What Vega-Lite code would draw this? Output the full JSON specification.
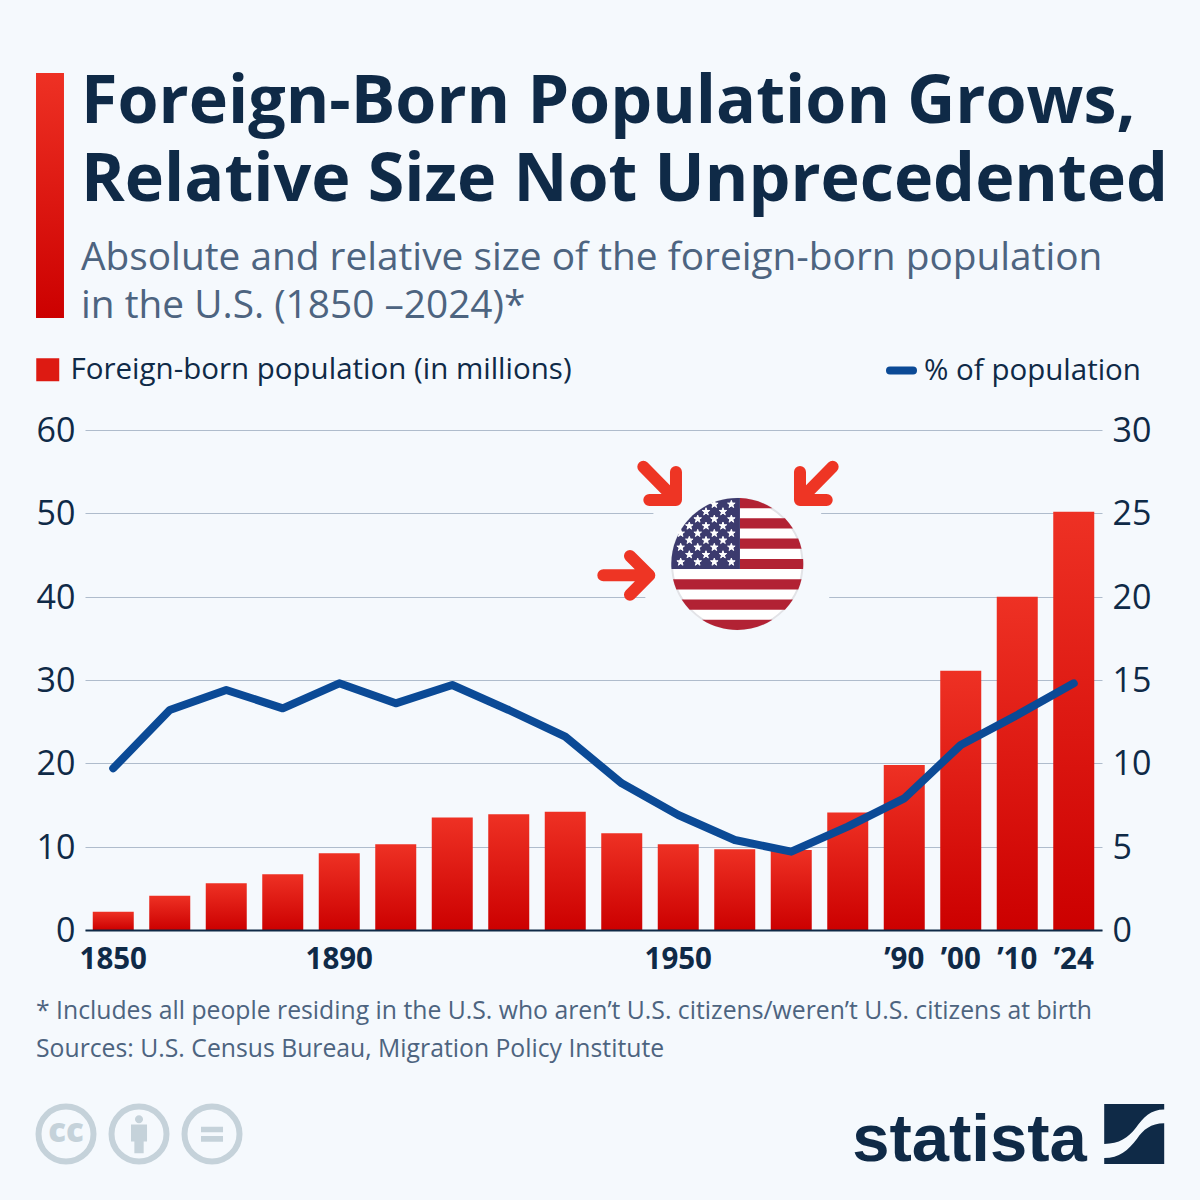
{
  "$schema": "https://vega.github.io/schema/vega-lite/v6.json",
  "autosize": {"type": "none"},
  "padding": {"left": 85, "right": 98, "top": 430, "bottom": 270},
  "width": 1017,
  "height": 500,
  "background": "#f5f9fd",
  "title": {
    "text": ["Foreign-Born Population Grows,", "Relative Size Not Unprecedented"],
    "subtitle": ["Absolute and relative size of the foreign-born population", "in the U.S. (1850 –2024)*"],
    "anchor": "start",
    "frame": "group",
    "dx": -4,
    "offset": -254,
    "font": "Open Sans",
    "fontWeight": 700,
    "fontSize": 66.4,
    "lineHeight": 78,
    "color": "#0f2a47",
    "subtitleFont": "Open Sans",
    "subtitleFontSize": 38.8,
    "subtitleLineHeight": 48,
    "subtitleColor": "#4d6480",
    "subtitlePadding": 24
  },
  "config": {
    "view": {"stroke": null},
    "font": "Open Sans"
  },
  "data": {
    "values": [
      {"year": 1850, "population": 2.2, "share": 9.7},
      {"year": 1860, "population": 4.1, "share": 13.2},
      {"year": 1870, "population": 5.6, "share": 14.4},
      {"year": 1880, "population": 6.7, "share": 13.3},
      {"year": 1890, "population": 9.2, "share": 14.8},
      {"year": 1900, "population": 10.3, "share": 13.6},
      {"year": 1910, "population": 13.5, "share": 14.7},
      {"year": 1920, "population": 13.9, "share": 13.2},
      {"year": 1930, "population": 14.2, "share": 11.6},
      {"year": 1940, "population": 11.6, "share": 8.8},
      {"year": 1950, "population": 10.3, "share": 6.9},
      {"year": 1960, "population": 9.7, "share": 5.4},
      {"year": 1970, "population": 9.6, "share": 4.7},
      {"year": 1980, "population": 14.1, "share": 6.2},
      {"year": 1990, "population": 19.8, "share": 7.9},
      {"year": 2000, "population": 31.1, "share": 11.1},
      {"year": 2010, "population": 40.0, "share": 12.9},
      {"year": 2024, "population": 50.2, "share": 14.8}
    ]
  },
  "resolve": {"scale": {"x": "independent", "y": "independent", "color": "independent", "stroke": "independent"}},
  "layer": [
    {
      "mark": {"type": "bar", "width": 41, "fill": {"gradient": "linear", "x1": 0, "y1": 0, "x2": 0, "y2": 1, "stops": [{"offset": 0, "color": "#ee3124"}, {"offset": 1, "color": "#cc0000"}]}},
      "encoding": {
        "x": {
          "field": "year",
          "type": "ordinal",
          "scale": {"paddingInner": 0.27, "paddingOuter": 0.135},
          "axis": {
            "title": null,
            "zindex": 1,
            "ticks": false,
            "domainColor": "#0f2a47",
            "domainWidth": 2,
            "labelAngle": 0,
            "labelFont": "Open Sans",
            "labelFontSize": 29.5,
            "labelFontWeight": 700,
            "labelColor": "#0f2a47",
            "labelPadding": 15,
            "labelOverlap": false,
            "labelExpr": "{'1850':'1850','1890':'1890','1950':'1950','1990':'’90','2000':'’00','2010':'’10','2024':'’24'}[datum.value] || ''"
          }
        },
        "y": {
          "field": "population",
          "type": "quantitative",
          "scale": {"domain": [0, 60], "nice": false},
          "axis": {
            "title": null,
            "values": [0, 10, 20, 30, 40, 50, 60],
            "grid": true,
            "gridColor": "#afbccc",
            "domain": false,
            "ticks": false,
            "labelFontSize": 34,
            "labelColor": "#0f2a47",
            "labelPadding": 10,
            "labelOffset": 1.5
          }
        },
        "color": {
          "datum": "Foreign-born population (in millions)",
          "scale": {"range": ["#dd1a12"]},
          "legend": {
            "orient": "none",
            "legendX": -52,
            "legendY": -75,
            "title": null,
            "padding": 0,
            "symbolType": "square",
            "symbolSize": 529,
            "symbolStrokeWidth": 0,
            "symbolOpacity": 1,
            "labelOffset": 8,
            "labelFontSize": 29.5,
            "labelLimit": 700,
            "labelColor": "#0f2a47"
          }
        }
      }
    },
    {
      "data": {"values": [{"item": "flag"}]},
      "mark": {"type": "point", "filled": true, "opacity": 1, "shape": "circle", "size": 38416, "color": "#f5f9fd"},
      "encoding": {
        "x": {"datum": 11.545, "type": "quantitative", "scale": {"domain": [0, 18], "nice": false, "zero": false}, "axis": null},
        "y": {"datum": 43.92, "type": "quantitative", "scale": {"domain": [0, 60], "nice": false}, "axis": null}
      }
    },
    {
      "data": {"values": [{"item": "flag"}]},
      "mark": {"type": "point", "filled": true, "opacity": 1, "shape": "circle", "size": 17000, "color": "#ffffff", "stroke": "#e2e3e7", "strokeWidth": 2},
      "encoding": {
        "x": {"datum": 11.545, "type": "quantitative", "scale": {"domain": [0, 18], "nice": false, "zero": false}, "axis": null},
        "y": {"datum": 43.92, "type": "quantitative", "scale": {"domain": [0, 60], "nice": false}, "axis": null}
      }
    },
    {
      "data": {"values": [{"item": "flag"}]},
      "mark": {
        "type": "point", "filled": true, "opacity": 1, "size": 17424, "color": "#b22234", "strokeWidth": 0,
        "shape": "M0.04 -0.999 L0.04 -0.846 L0.533 -0.846 A1 1 0 0 0 0.04 -0.999 Z M0.04 -0.692 L0.722 -0.692 A1 1 0 0 1 0.843 -0.538 L0.04 -0.538 Z M0.04 -0.385 L0.923 -0.385 A1 1 0 0 1 0.973 -0.231 L0.04 -0.231 Z M0.04 -0.077 L0.997 -0.077 A1 1 0 0 1 0.997 0.077 L0.04 0.077 Z M-0.973 0.231 L0.973 0.231 A1 1 0 0 1 0.923 0.385 L-0.923 0.385 A1 1 0 0 1 -0.973 0.231 Z M-0.843 0.538 L0.843 0.538 A1 1 0 0 1 0.722 0.692 L-0.722 0.692 A1 1 0 0 1 -0.843 0.538 Z M-0.533 0.846 L0.533 0.846 A1 1 0 0 1 -0.533 0.846 Z"
      },
      "encoding": {
        "x": {"datum": 11.545, "type": "quantitative", "scale": {"domain": [0, 18], "nice": false, "zero": false}, "axis": null},
        "y": {"datum": 43.92, "type": "quantitative", "scale": {"domain": [0, 60], "nice": false}, "axis": null}
      }
    },
    {
      "data": {"values": [{"item": "flag"}]},
      "mark": {
        "type": "point", "filled": true, "opacity": 1, "size": 17424, "color": "#3c3b6e", "strokeWidth": 0,
        "shape": "M0.04 -0.999 L0.04 0.077 L-0.997 0.077 A1 1 0 0 1 0.04 -0.999 Z"
      },
      "encoding": {
        "x": {"datum": 11.545, "type": "quantitative", "scale": {"domain": [0, 18], "nice": false, "zero": false}, "axis": null},
        "y": {"datum": 43.92, "type": "quantitative", "scale": {"domain": [0, 60], "nice": false}, "axis": null}
      }
    },
    {
      "data": {"values": [{"item": "flag"}]},
      "mark": {
        "type": "point", "filled": true, "opacity": 1, "size": 17424, "fill": "#ffffff", "stroke": "#ffffff", "strokeWidth": 1,
        "shape": "M-0.348 -0.964 l0.0353 0.1085 -0.0923 -0.067 h0.114 l-0.0923 0.067 z M-0.09 -0.964 l0.0353 0.1085 -0.0923 -0.067 h0.114 l-0.0923 0.067 z M-0.474 -0.853 l0.0353 0.1085 -0.0923 -0.067 h0.114 l-0.0923 0.067 z M-0.217 -0.853 l0.0353 0.1085 -0.0923 -0.067 h0.114 l-0.0923 0.067 z M-0.6 -0.742 l0.0353 0.1085 -0.0923 -0.067 h0.114 l-0.0923 0.067 z M-0.348 -0.742 l0.0353 0.1085 -0.0923 -0.067 h0.114 l-0.0923 0.067 z M-0.09 -0.742 l0.0353 0.1085 -0.0923 -0.067 h0.114 l-0.0923 0.067 z M-0.727 -0.636 l0.0353 0.1085 -0.0923 -0.067 h0.114 l-0.0923 0.067 z M-0.474 -0.636 l0.0353 0.1085 -0.0923 -0.067 h0.114 l-0.0923 0.067 z M-0.217 -0.636 l0.0353 0.1085 -0.0923 -0.067 h0.114 l-0.0923 0.067 z M-0.858 -0.525 l0.0353 0.1085 -0.0923 -0.067 h0.114 l-0.0923 0.067 z M-0.6 -0.525 l0.0353 0.1085 -0.0923 -0.067 h0.114 l-0.0923 0.067 z M-0.348 -0.525 l0.0353 0.1085 -0.0923 -0.067 h0.114 l-0.0923 0.067 z M-0.09 -0.525 l0.0353 0.1085 -0.0923 -0.067 h0.114 l-0.0923 0.067 z M-0.727 -0.419 l0.0353 0.1085 -0.0923 -0.067 h0.114 l-0.0923 0.067 z M-0.474 -0.419 l0.0353 0.1085 -0.0923 -0.067 h0.114 l-0.0923 0.067 z M-0.217 -0.419 l0.0353 0.1085 -0.0923 -0.067 h0.114 l-0.0923 0.067 z M-0.858 -0.313 l0.0353 0.1085 -0.0923 -0.067 h0.114 l-0.0923 0.067 z M-0.6 -0.313 l0.0353 0.1085 -0.0923 -0.067 h0.114 l-0.0923 0.067 z M-0.348 -0.313 l0.0353 0.1085 -0.0923 -0.067 h0.114 l-0.0923 0.067 z M-0.09 -0.313 l0.0353 0.1085 -0.0923 -0.067 h0.114 l-0.0923 0.067 z M-0.727 -0.201 l0.0353 0.1085 -0.0923 -0.067 h0.114 l-0.0923 0.067 z M-0.474 -0.201 l0.0353 0.1085 -0.0923 -0.067 h0.114 l-0.0923 0.067 z M-0.217 -0.201 l0.0353 0.1085 -0.0923 -0.067 h0.114 l-0.0923 0.067 z M-0.858 -0.09 l0.0353 0.1085 -0.0923 -0.067 h0.114 l-0.0923 0.067 z M-0.6 -0.09 l0.0353 0.1085 -0.0923 -0.067 h0.114 l-0.0923 0.067 z M-0.348 -0.09 l0.0353 0.1085 -0.0923 -0.067 h0.114 l-0.0923 0.067 z M-0.09 -0.09 l0.0353 0.1085 -0.0923 -0.067 h0.114 l-0.0923 0.067 z"
      },
      "encoding": {
        "x": {"datum": 11.545, "type": "quantitative", "scale": {"domain": [0, 18], "nice": false, "zero": false}, "axis": null},
        "y": {"datum": 43.92, "type": "quantitative", "scale": {"domain": [0, 60], "nice": false}, "axis": null}
      }
    },
    {
      "data": {"values": [{"item": "flag"}]},
      "mark": {
        "type": "point", "filled": false, "opacity": 1, "size": 17424, "stroke": "#ee3524", "strokeWidth": 12, "strokeCap": "round", "strokeJoin": "round",
        "shape": "M-1.424 -1.474 L-0.929 -0.97 M-1.333 -0.97 L-0.929 -0.97 L-0.929 -1.394 M1.445 -1.474 L0.95 -0.97 M1.355 -0.97 L0.95 -0.97 L0.95 -1.394 M-2.03 0.171 L-1.333 0.171 M-1.626 -0.121 L-1.333 0.171 L-1.626 0.465"
      },
      "encoding": {
        "x": {"datum": 11.545, "type": "quantitative", "scale": {"domain": [0, 18], "nice": false, "zero": false}, "axis": null},
        "y": {"datum": 43.92, "type": "quantitative", "scale": {"domain": [0, 60], "nice": false}, "axis": null}
      }
    },
    {
      "data": {"values": [{"item": "title bar"}]},
      "mark": {"type": "rect", "fill": {"gradient": "linear", "x1": 0, "y1": 0, "x2": 0, "y2": 1, "stops": [{"offset": 0, "color": "#ee3124"}, {"offset": 1, "color": "#cc0000"}]}},
      "encoding": {
        "x": {"datum": -0.867, "type": "quantitative", "scale": {"domain": [0, 18], "nice": false, "zero": false}, "axis": null},
        "x2": {"datum": -0.372},
        "y": {"datum": 102.84, "type": "quantitative", "scale": {"domain": [0, 60], "nice": false}, "axis": null},
        "y2": {"datum": 73.44}
      }
    },
    {
      "data": {"values": [{"item": "note"}]},
      "mark": {"type": "text", "align": "left", "baseline": "middle", "fontSize": 24.75, "color": "#4d6480", "text": "* Includes all people residing in the U.S. who aren’t U.S. citizens/weren’t U.S. citizens at birth"},
      "encoding": {
        "x": {"datum": -0.867, "type": "quantitative", "scale": {"domain": [0, 18], "nice": false, "zero": false}, "axis": null},
        "y": {"datum": -9.84, "type": "quantitative", "scale": {"domain": [0, 60], "nice": false}, "axis": null}
      }
    },
    {
      "data": {"values": [{"item": "sources"}]},
      "mark": {"type": "text", "align": "left", "baseline": "middle", "fontSize": 24.75, "color": "#4d6480", "text": "Sources: U.S. Census Bureau, Migration Policy Institute"},
      "encoding": {
        "x": {"datum": -0.867, "type": "quantitative", "scale": {"domain": [0, 18], "nice": false, "zero": false}, "axis": null},
        "y": {"datum": -14.4, "type": "quantitative", "scale": {"domain": [0, 60], "nice": false}, "axis": null}
      }
    },
    {
      "data": {"values": [{"item": "licence"}]},
      "mark": {"type": "point", "filled": false, "opacity": 1, "shape": "circle", "size": 3025, "stroke": "#c5d2da", "strokeWidth": 6},
      "encoding": {
        "x": {"datum": -0.336, "type": "quantitative", "scale": {"domain": [0, 18], "nice": false, "zero": false}, "axis": null},
        "y": {"datum": -24.48, "type": "quantitative", "scale": {"domain": [0, 60], "nice": false}, "axis": null}
      }
    },
    {
      "data": {"values": [{"item": "licence"}]},
      "mark": {"type": "text", "align": "center", "baseline": "middle", "fontSize": 33, "fontWeight": 800, "color": "#c5d2da", "text": "cc", "dy": -2},
      "encoding": {
        "x": {"datum": -0.336, "type": "quantitative", "scale": {"domain": [0, 18], "nice": false, "zero": false}, "axis": null},
        "y": {"datum": -24.48, "type": "quantitative", "scale": {"domain": [0, 60], "nice": false}, "axis": null}
      }
    },
    {
      "data": {"values": [{"item": "licence"}]},
      "mark": {"type": "point", "filled": false, "opacity": 1, "shape": "circle", "size": 3025, "stroke": "#c5d2da", "strokeWidth": 6},
      "encoding": {
        "x": {"datum": 0.956, "type": "quantitative", "scale": {"domain": [0, 18], "nice": false, "zero": false}, "axis": null},
        "y": {"datum": -24.48, "type": "quantitative", "scale": {"domain": [0, 60], "nice": false}, "axis": null}
      }
    },
    {
      "data": {"values": [{"item": "licence"}]},
      "mark": {
        "type": "point", "filled": true, "opacity": 1, "size": 3600, "color": "#c5d2da", "strokeWidth": 0,
        "shape": "M-0.267 -0.32 H0.267 V0.25 H0.155 V0.64 H-0.155 V0.25 H-0.267 Z M0.135 -0.49 A0.135 0.135 0 1 1 -0.135 -0.49 A0.135 0.135 0 1 1 0.135 -0.49 Z"
      },
      "encoding": {
        "x": {"datum": 0.956, "type": "quantitative", "scale": {"domain": [0, 18], "nice": false, "zero": false}, "axis": null},
        "y": {"datum": -24.48, "type": "quantitative", "scale": {"domain": [0, 60], "nice": false}, "axis": null}
      }
    },
    {
      "data": {"values": [{"item": "licence"}]},
      "mark": {"type": "point", "filled": false, "opacity": 1, "shape": "circle", "size": 3025, "stroke": "#c5d2da", "strokeWidth": 6},
      "encoding": {
        "x": {"datum": 2.248, "type": "quantitative", "scale": {"domain": [0, 18], "nice": false, "zero": false}, "axis": null},
        "y": {"datum": -24.48, "type": "quantitative", "scale": {"domain": [0, 60], "nice": false}, "axis": null}
      }
    },
    {
      "data": {"values": [{"item": "licence"}]},
      "mark": {
        "type": "point", "filled": true, "opacity": 1, "size": 3600, "color": "#c5d2da", "strokeWidth": 0,
        "shape": "M-0.367 -0.244 H0.367 V-0.055 H-0.367 Z M-0.367 0.067 H0.367 V0.255 H-0.367 Z"
      },
      "encoding": {
        "x": {"datum": 2.248, "type": "quantitative", "scale": {"domain": [0, 18], "nice": false, "zero": false}, "axis": null},
        "y": {"datum": -24.48, "type": "quantitative", "scale": {"domain": [0, 60], "nice": false}, "axis": null}
      }
    },
    {
      "data": {"values": [{"item": "logo"}]},
      "mark": {"type": "text", "align": "right", "baseline": "alphabetic", "font": "Liberation Sans", "fontSize": 67, "fontWeight": 700, "color": "#0f2a47", "text": "statista"},
      "encoding": {
        "x": {"datum": 17.73, "type": "quantitative", "scale": {"domain": [0, 18], "nice": false, "zero": false}, "axis": null},
        "y": {"datum": -27.72, "type": "quantitative", "scale": {"domain": [0, 60], "nice": false}, "axis": null}
      }
    },
    {
      "data": {"values": [{"item": "logo"}]},
      "mark": {
        "type": "point", "filled": true, "opacity": 1, "size": 3600, "color": "#0f2a47", "strokeWidth": 0,
        "shape": "M-1 -1 H1 V-0.82 C0.55 -0.82 0.3 -0.55 0.05 -0.2 C-0.2 0.12 -0.5 0.33 -1 0.33 Z M-1 0.8 C-0.5 0.8 -0.2 0.55 0.1 0.15 C0.3 -0.15 0.55 -0.35 1 -0.36 V1 H-1 Z"
      },
      "encoding": {
        "x": {"datum": 18.57, "type": "quantitative", "scale": {"domain": [0, 18], "nice": false, "zero": false}, "axis": null},
        "y": {"datum": -24.48, "type": "quantitative", "scale": {"domain": [0, 60], "nice": false}, "axis": null}
      }
    },
    {
      "mark": {"type": "line", "strokeWidth": 8, "strokeCap": "round", "strokeJoin": "round"},
      "encoding": {
        "x": {
          "field": "year",
          "type": "ordinal",
          "scale": {"type": "band", "paddingInner": 0.27, "paddingOuter": 0.135},
          "axis": null
        },
        "y": {
          "field": "share",
          "type": "quantitative",
          "scale": {"domain": [0, 30], "nice": false},
          "axis": {
            "orient": "right",
            "title": null,
            "values": [0, 5, 10, 15, 20, 25, 30],
            "grid": false,
            "domain": false,
            "ticks": false,
            "labelFontSize": 34,
            "labelColor": "#0f2a47",
            "labelPadding": 10,
            "labelOffset": 1.5
          }
        },
        "stroke": {
          "datum": "% of population",
          "scale": {"range": ["#0b4a96"]},
          "legend": {
            "orient": "none",
            "legendX": 801,
            "legendY": -75,
            "title": null,
            "padding": 0,
            "symbolType": "stroke",
            "symbolSize": 529,
            "symbolStrokeWidth": 8,
            "labelOffset": 7,
            "labelFontSize": 29.5,
            "labelLimit": 400,
            "labelColor": "#0f2a47",
            "encode": {"symbols": {"update": {"strokeCap": {"value": "round"}}}}
          }
        }
      }
    }
  ]
}
